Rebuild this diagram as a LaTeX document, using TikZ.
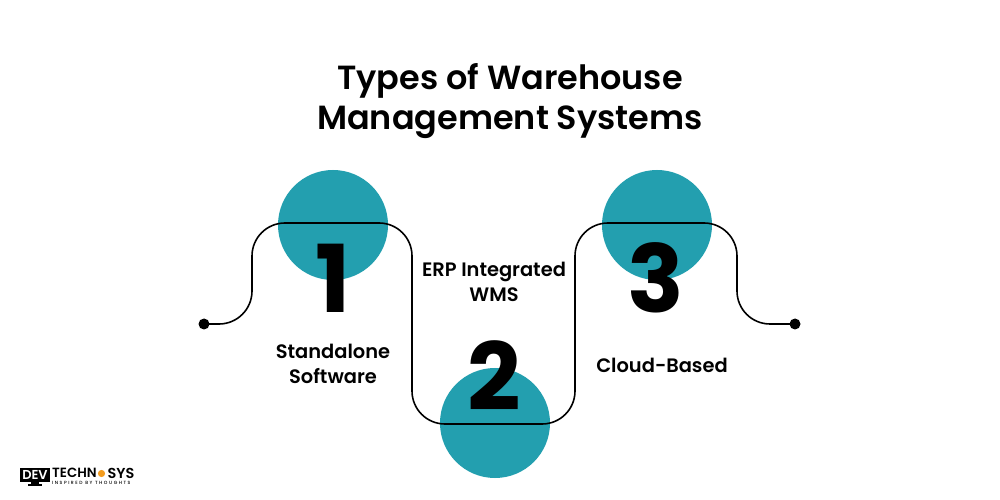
\documentclass[tikz,border=0pt]{standalone}
\usepackage{fontspec}
\setmainfont{Poppins}[UprightFont=* Medium,BoldFont=* SemiBold]
\newfontfamily\numfont{Poppins Bold}
\definecolor{teal}{HTML}{239FAF}
\definecolor{logoorange}{HTML}{F39C1F}
\tikzset{
  disc/.style={circle,fill=teal,draw=none,minimum size=110bp,inner sep=0pt},
  dotend/.style={circle,fill=black,draw=none,minimum size=11bp,inner sep=0pt},
  track/.style={draw=black,line width=1.6bp,rounded corners=33bp},
  titletext/.style={font=\fontsize{33.6}{40}\selectfont\bfseries,align=center,text=black,inner sep=0pt},
  labeltext/.style={font=\fontsize{19.5}{25}\selectfont\bfseries,align=center,text=black,inner sep=0pt},
  numeral/.style={font=\fontsize{94}{94}\numfont\selectfont,text=black,inner sep=0pt},
}
\begin{document}
\begin{tikzpicture}[x=1bp,y=-1bp]
\useasboundingbox[fill=white] (0,0) rectangle (1000,500);
\node[disc] (c1) at (333,225) {};
\node[disc] (c2) at (495,423) {};
\node[disc] (c3) at (657,225) {};
\node[dotend] (start) at (204,324) {};
\node[dotend] (end) at (795,324) {};
\draw[track] (start.center) -- (252,324) -- (252,223) -- (412,223) -- (412,424) -- (575,424) -- (575,223) -- (737,223) -- (737,324) -- (end.center);
\node[numeral] (n1) at (333,278) {1};
\node[numeral] (n2) at (494,376) {2};
\node[numeral] (n3) at (656,278) {3};
\node[titletext] (title) at (510,101) {Types of Warehouse\\Management Systems};
\node[labeltext] (l1) at (333,364) {Standalone\\Software};
\node[labeltext] (l2) at (494,282) {ERP Integrated\\WMS};
\node[labeltext] (l3) at (662,365) {Cloud-Based};
% logo
\fill[black] (20,467.5) rectangle (50,481.5);
\fill[black] (31,481.5) rectangle (39,484);
\fill[black] (28,484) rectangle (42,485.5);
\node[inner sep=0pt,text=white,font=\fontsize{13}{13}\selectfont\bfseries] (logoa) at (35,474.5) {DEV};
\node[inner sep=0pt,text=black,font=\fontsize{13.4}{15}\selectfont\bfseries,anchor=west] (logob) at (52,473) {TECHN};
\fill[logoorange] (101.5,473.5) circle (3.6);
\node[inner sep=0pt,text=black,font=\fontsize{14.5}{15}\selectfont\bfseries,anchor=east] (logoc) at (134.5,473) {SYS};
\node[inner sep=0pt,text=black,font=\fontsize{4.6}{5}\selectfont\addfontfeatures{LetterSpace=33},anchor=west] (logod) at (52,483.2) {INSPIRED BY THOUGHTS};
\end{tikzpicture}
\end{document}
